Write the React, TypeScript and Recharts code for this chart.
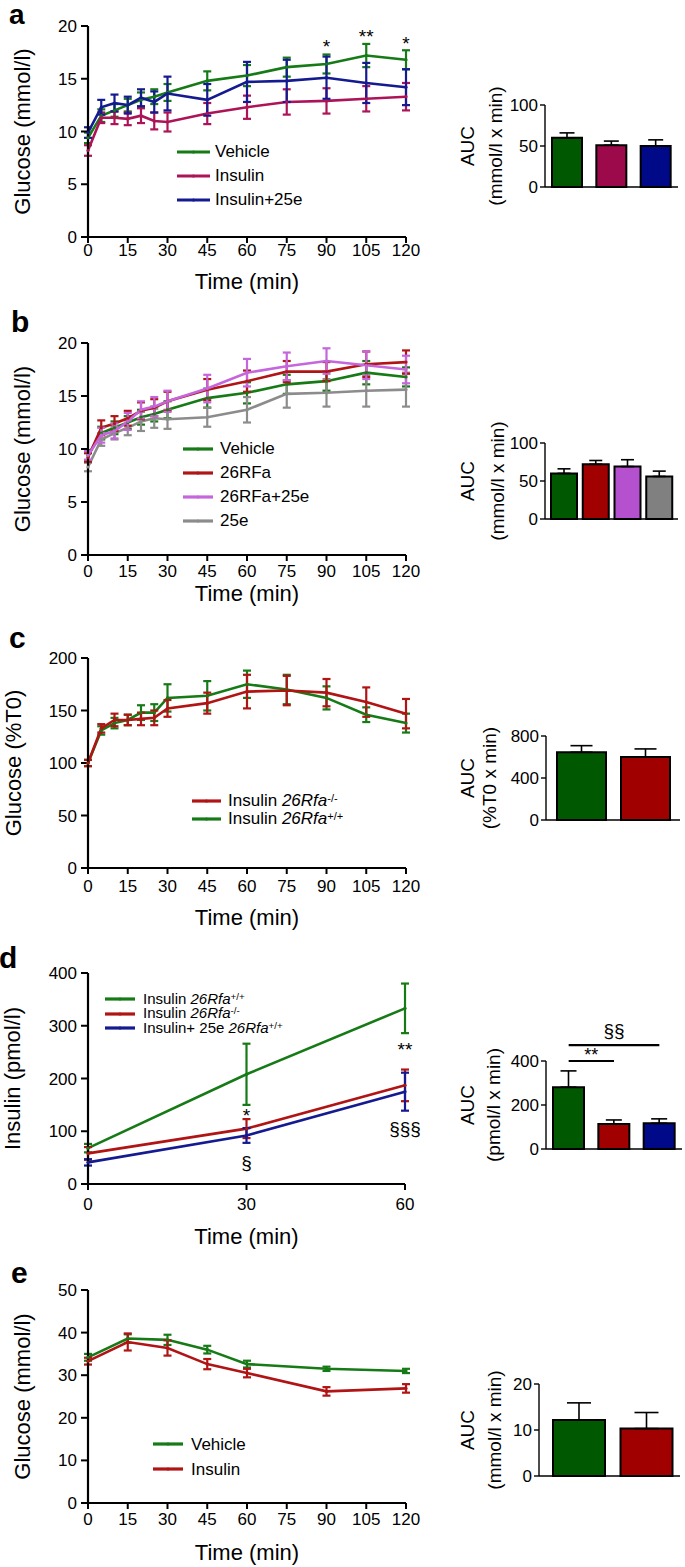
import React from "react";
import {
  Bar,
  BarChart,
  Cell,
  ErrorBar,
  Legend,
  Line,
  LineChart,
  ReferenceDot,
  ReferenceLine,
  XAxis,
  YAxis,
} from "recharts";

const FONT = '"Liberation Sans", Arial, Helvetica, sans-serif';

const GREEN = "#167a16";
const GREEN_BAR = "#005800";
const CRIMSON = "#ad1457";
const CRIMSON_BAR = "#9c0a4c";
const NAVY = "#141a90";
const NAVY_BAR = "#000a88";
const RED = "#b01414";
const RED_BAR = "#a00000";
const VIOLET = "#c566dc";
const VIOLET_BAR = "#b550cf";
const GREY = "#8c8c8c";
const GREY_BAR = "#808080";

// ---- time axes ----
const time120 = [0, 5, 10, 15, 20, 25, 30, 45, 60, 75, 90, 105, 120];
const ticks120 = [0, 15, 30, 45, 60, 75, 90, 105, 120];
const time60 = [0, 30, 60];
const ticks60 = [0, 30, 60];
const timeE = [0, 15, 30, 45, 60, 90, 120];

// ---- panel a ----
const aVehicle = [9.4, 11.5, 12.0, 12.5, 13.0, 13.3, 13.7, 14.8, 15.3, 16.1, 16.4, 17.2, 16.8];
const aVehicleErr = [0.5, 0.6, 0.6, 0.6, 0.7, 0.7, 0.8, 0.9, 1.0, 0.9, 0.9, 1.1, 0.9];
const aInsulin = [8.2, 11.3, 11.3, 11.2, 11.5, 11.0, 10.9, 11.7, 12.3, 12.8, 12.9, 13.1, 13.3];
const aInsulinErr = [0.5, 0.5, 0.6, 0.6, 0.7, 0.8, 0.9, 1.0, 1.1, 1.2, 1.2, 1.2, 1.3];
const aIns25e = [9.9, 12.3, 12.7, 12.5, 13.2, 12.8, 13.6, 13.0, 14.7, 14.8, 15.1, 14.6, 14.2];
const aIns25eErr = [0.5, 0.7, 0.8, 0.8, 0.8, 1.0, 1.6, 1.5, 1.9, 2.0, 2.0, 1.9, 1.7];
const aNotes = [
  { t: 90, v: 18.1, text: "*" },
  { t: 105, v: 19.0, text: "**" },
  { t: 120, v: 18.4, text: "*" },
];
const aAucCats = ["Vehicle", "Insulin", "Insulin+25e"];
const aAuc = [60, 51, 50];
const aAucErr = [6, 5, 7.5];

// ---- panel b ----
const bRFa = [9.2, 12.0, 12.4, 12.9, 13.6, 13.9, 14.5, 15.6, 16.4, 17.3, 17.3, 18.0, 18.2];
const bRFaErr = [0.4, 0.7, 0.7, 0.7, 0.8, 0.8, 0.9, 1.0, 1.0, 1.0, 0.9, 1.2, 1.1];
const bRFa25e = [9.4, 11.3, 11.7, 12.6, 13.7, 14.0, 14.5, 15.7, 17.2, 17.8, 18.3, 17.9, 17.5];
const bRFa25eErr = [0.4, 0.7, 0.7, 0.8, 0.8, 0.9, 1.0, 1.3, 1.3, 1.3, 1.2, 1.3, 1.3];
const b25e = [8.3, 10.9, 11.5, 12.0, 12.6, 12.9, 12.8, 13.0, 13.7, 15.2, 15.3, 15.5, 15.6];
const b25eErr = [0.4, 0.6, 0.6, 0.7, 0.9, 0.9, 0.9, 0.9, 1.2, 1.3, 1.3, 1.5, 1.6];
const bAucCats = ["Vehicle", "26RFa", "26RFa+25e", "25e"];
const bAuc = [60, 72, 69, 56];
const bAucErr = [6, 5, 9, 7];

// ---- panel c ----
const cKO = [100, 133, 141, 141, 142, 143, 152, 157, 168, 169, 167, 158, 147];
const cKOErr = [3, 4, 6, 5, 6, 7, 8, 10, 16, 14, 13, 14, 14];
const cWT = [100, 131, 138, 141, 148, 148, 162, 164, 175, 170, 162, 146, 138];
const cWTErr = [3, 4, 5, 5, 7, 8, 13, 14, 13, 14, 11, 7, 9];
const cAucCats = ["26Rfa+/+", "26Rfa-/-"];
const cAuc = [645, 600];
const cAucErr = [63, 77];

// ---- panel d ----
const dWT = [68, 208, 333];
const dWTErr = [8, 58, 47];
const dKO = [58, 105, 187];
const dKOErr = [12, 18, 30];
const dWT25e = [41, 92, 175];
const dWT25eErr = [6, 14, 36];
const dNotes = [
  { t: 30, v: 130, text: "*" },
  { t: 60, v: 256, text: "**" },
  { t: 30, v: 42, text: "§" },
  { t: 60, v: 105, text: "§§§" },
];
const dAucCats = ["WT", "KO", "WT+25e"];
const dAuc = [281, 114, 117];
const dAucErr = [74, 18, 20];

// ---- panel e ----
const eVehicle = [34.2, 38.6, 38.3, 36.0, 32.6, 31.5, 31.0];
const eVehicleErr = [0.8, 1.0, 1.2, 0.9, 0.8, 0.5, 0.5];
const eInsulin = [33.3, 37.8, 36.4, 32.6, 30.5, 26.2, 26.9];
const eInsulinErr = [0.8, 2.0, 1.8, 1.2, 1.0, 1.0, 1.0];
const eAucCats = ["Vehicle", "Insulin"];
const eAuc = [12.2, 10.3];
const eAucErr = [3.7, 3.5];

function table(times: number[], cols: Record<string, number[]>) {
  return times.map((t, i) => {
    const row: Record<string, number> = { t };
    for (const k of Object.keys(cols)) row[k] = cols[k][i];
    return row;
  });
}

type Series = { key: string; err: string; color: string; label: React.ReactNode };
type Note = { t: number; v: number; text: string };

const Sup = ({ children }: { children: React.ReactNode }) => (
  <span style={{ fontSize: "0.65em", position: "relative", top: "-0.4em", lineHeight: 0 }}>{children}</span>
);
const Rfa = ({ sup }: { sup: string }) => (
  <>
    <i>26Rfa</i>
    <Sup>{sup}</Sup>
  </>
);

function LegendBox({ items, rowH, lineW, gap, fontSize }: { items: Series[]; rowH: number; lineW: number; gap: number; fontSize: number }) {
  return (
    <div style={{ fontFamily: FONT, fontSize, color: "#000", whiteSpace: "nowrap" }}>
      {items.map((it) => (
        <div key={it.key} style={{ display: "flex", alignItems: "center", height: rowH, lineHeight: `${rowH}px` }}>
          <svg width={lineW} height={8} style={{ marginRight: gap, flex: "none" }}>
            <line x1={0} y1={4} x2={lineW} y2={4} stroke={it.color} strokeWidth={3.2} />
            <circle cx={lineW / 2} cy={4} r={1.6} fill={it.color} />
          </svg>
          <span>{it.label}</span>
        </div>
      ))}
    </div>
  );
}

function LinePanel(p: {
  plotTop: number;
  plotBottom: number;
  plotRight: number;
  data: Record<string, number>[];
  xMax: number;
  xTicks: number[];
  yDomain: [number, number];
  yTicks: number[];
  yLabel: string;
  yLabelX: number;
  tickGap: number;
  titleGap: number;
  series: Series[];
  legend: { x: number; y: number; rowH: number; lineW: number; gap: number; fontSize?: number; order?: Series[] };
  notes?: Note[];
}) {
  const head = 26;
  const axisH = 72;
  const top = p.plotTop - head;
  const h = p.plotBottom - p.plotTop + head + axisH;
  const legendItems = p.legend.order ?? p.series;
  return (
    <div style={{ position: "absolute", left: 0, top }}>
      <LineChart
        width={440}
        height={h}
        data={p.data}
        margin={{ top: head, right: 440 - p.plotRight, bottom: 0, left: 0 }}
        style={{ fontFamily: FONT }}
      >
        <XAxis
          dataKey="t"
          type="number"
          domain={[0, p.xMax]}
          ticks={p.xTicks}
          interval={0}
          height={axisH}
          axisLine={{ stroke: "#000", strokeWidth: 2.2 }}
          tickLine={{ stroke: "#000", strokeWidth: 2 }}
          tickSize={6}
          tickMargin={p.tickGap}
          tick={{ fontSize: 17, fill: "#000" }}
          label={{ value: "Time (min)", position: "insideBottom", offset: axisH - p.titleGap, fontSize: 22, fill: "#000" }}
        />
        <YAxis
          width={88}
          domain={p.yDomain}
          ticks={p.yTicks}
          interval={0}
          axisLine={{ stroke: "#000", strokeWidth: 2.2 }}
          tickLine={{ stroke: "#000", strokeWidth: 2 }}
          tickSize={7}
          tickMargin={4}
          tick={{ fontSize: 17, fill: "#000" }}
          label={{
            value: p.yLabel,
            angle: -90,
            position: "insideLeft",
            offset: p.yLabelX,
            textAnchor: "middle",
            style: { textAnchor: "middle" },
            fontSize: 22,
            fill: "#000",
          }}
        />
        {p.series.map((s) => (
          <Line
            key={s.key}
            type="linear"
            dataKey={s.key}
            stroke={s.color}
            strokeWidth={2.6}
            dot={{ r: 1.6, fill: s.color, stroke: s.color, strokeWidth: 0 }}
            isAnimationActive={false}
          >
            <ErrorBar dataKey={s.err} width={4} strokeWidth={2.2} stroke={s.color} direction="y" isAnimationActive={false} />
          </Line>
        ))}
        {(p.notes ?? []).map((n, i) => (
          <ReferenceDot
            key={i}
            x={n.t}
            y={n.v}
            r={0}
            fill="none"
            stroke="none"
            label={{ value: n.text, position: "center", fontSize: 19, fill: "#000" }}
          />
        ))}
        <Legend
          layout="vertical"
          align="center"
          verticalAlign="middle"
          wrapperStyle={{ left: p.legend.x, top: p.legend.y - top - p.legend.rowH / 2, width: 260 }}
          content={() => (
            <LegendBox
              items={legendItems}
              rowH={p.legend.rowH}
              lineW={p.legend.lineW}
              gap={p.legend.gap}
              fontSize={p.legend.fontSize ?? 17}
            />
          )}
        />
      </LineChart>
    </div>
  );
}

function aucLabel(l1: string, l2: string, x1: number, x2: number, cy: number) {
  return () => (
    <g fontFamily={FONT} fontSize={19} fill="#000">
      <text x={x1} y={cy} transform={`rotate(-90 ${x1} ${cy})`} textAnchor="middle" dominantBaseline="central">
        {l1}
      </text>
      <text x={x2} y={cy} transform={`rotate(-90 ${x2} ${cy})`} textAnchor="middle" dominantBaseline="central">
        {l2}
      </text>
    </g>
  );
}

function BarPanel(p: {
  axisX: number;
  xEnd: number;
  yTop: number;
  yZero: number;
  head?: number;
  domain: [number, number];
  ticks: number[];
  cats: string[];
  values: number[];
  errs: number[];
  colors: string[];
  barSize: number;
  cap: number;
  unit: string;
  l1x: number;
  l2x: number;
  padding?: { left: number; right: number };
  children?: React.ReactNode;
}) {
  const head = p.head ?? 45;
  const top = p.yTop - head;
  const axisH = 45;
  const h = p.yZero - top + axisH;
  const data = p.cats.map((c, i) => ({ c, v: p.values[i], err: [0, p.errs[i]] }));
  const cy = head + (p.yZero - p.yTop) / 2;
  return (
    <div style={{ position: "absolute", left: 420, top }}>
      <BarChart
        width={265}
        height={h}
        data={data}
        margin={{ top: head, right: 685 - p.xEnd, bottom: 0, left: 0 }}
        style={{ fontFamily: FONT }}
      >
        <XAxis
          dataKey="c"
          height={axisH}
          tick={false}
          tickSize={5}
          padding={p.padding ?? { left: 0, right: 0 }}
          axisLine={{ stroke: "#000", strokeWidth: 1.6 }}
          tickLine={{ stroke: "#000", strokeWidth: 1.4 }}
        />
        <YAxis
          width={p.axisX - 420}
          domain={p.domain}
          ticks={p.ticks}
          interval={0}
          tickSize={5}
          tickMargin={2}
          axisLine={{ stroke: "#000", strokeWidth: 1.4 }}
          tickLine={{ stroke: "#000", strokeWidth: 1.4 }}
          tick={{ fontSize: 17, fill: "#000" }}
          label={{ content: aucLabel("AUC", p.unit, p.l1x - 420, p.l2x - 420, cy) }}
        />
        <Bar dataKey="v" barSize={p.barSize} stroke="#000" strokeWidth={2} isAnimationActive={false}>
          {p.colors.map((col, i) => (
            <Cell key={i} fill={col} />
          ))}
          <ErrorBar dataKey="err" width={p.cap} strokeWidth={1.6} stroke="#000" direction="y" isAnimationActive={false} />
        </Bar>
        {p.children}
      </BarChart>
    </div>
  );
}

function Letter({ ch, x, baseline, size = 30 }: { ch: string; x: number; baseline: number; size?: number }) {
  return (
    <div
      style={{
        position: "absolute",
        left: x,
        top: baseline - 20,
        fontSize: size,
        lineHeight: "20px",
        fontWeight: "bold",
        fontFamily: FONT,
        color: "#000",
      }}
    >
      {ch}
    </div>
  );
}

const aData = table(time120, { veh: aVehicle, vehE: aVehicleErr, ins: aInsulin, insE: aInsulinErr, i25: aIns25e, i25E: aIns25eErr });
const bData = table(time120, { veh: aVehicle, vehE: aVehicleErr, rfa: bRFa, rfaE: bRFaErr, r25: bRFa25e, r25E: bRFa25eErr, e25: b25e, e25E: b25eErr });
const cData = table(time120, { ko: cKO, koE: cKOErr, wt: cWT, wtE: cWTErr });
const dData = table(time60, { wt: dWT, wtE: dWTErr, ko: dKO, koE: dKOErr, w25: dWT25e, w25E: dWT25eErr });
const eData = table(timeE, { veh: eVehicle, vehE: eVehicleErr, ins: eInsulin, insE: eInsulinErr });

const aSeries: Series[] = [
  { key: "veh", err: "vehE", color: GREEN, label: "Vehicle" },
  { key: "ins", err: "insE", color: CRIMSON, label: "Insulin" },
  { key: "i25", err: "i25E", color: NAVY, label: "Insulin+25e" },
];
const bVeh: Series = { key: "veh", err: "vehE", color: GREEN, label: "Vehicle" };
const bRfaS: Series = { key: "rfa", err: "rfaE", color: RED, label: "26RFa" };
const bR25S: Series = { key: "r25", err: "r25E", color: VIOLET, label: "26RFa+25e" };
const bE25S: Series = { key: "e25", err: "e25E", color: GREY, label: "25e" };
const cKoS: Series = { key: "ko", err: "koE", color: RED, label: <>Insulin <Rfa sup="-/-" /></> };
const cWtS: Series = { key: "wt", err: "wtE", color: GREEN, label: <>Insulin <Rfa sup="+/+" /></> };
const dSeries: Series[] = [
  { key: "wt", err: "wtE", color: GREEN, label: <>Insulin <Rfa sup="+/+" /></> },
  { key: "ko", err: "koE", color: RED, label: <>Insulin <Rfa sup="-/-" /></> },
  { key: "w25", err: "w25E", color: NAVY, label: <>Insulin+ 25e <Rfa sup="+/+" /></> },
];
const eSeries: Series[] = [
  { key: "veh", err: "vehE", color: GREEN, label: "Vehicle" },
  { key: "ins", err: "insE", color: RED, label: "Insulin" },
];

export default function App() {
  return (
    <div
      style={{
        position: "absolute",
        left: 0,
        top: 0,
        width: 685,
        height: 1567,
        background: "#fff",
        overflow: "hidden",
        fontFamily: FONT,
      }}
    >
      {/* a */}
      <Letter ch="a" x={9} baseline={25} size={28} />
      <LinePanel
        plotTop={26}
        plotBottom={237}
        plotRight={406}
        data={aData}
        xMax={120}
        xTicks={ticks120}
        yDomain={[0, 20]}
        yTicks={[0, 5, 10, 15, 20]}
        yLabel="Glucose (mmol/l)"
        yLabelX={22}
        tickGap={1}
        titleGap={52}
        series={aSeries}
        legend={{ x: 177, y: 152, rowH: 24, lineW: 33, gap: 5 }}
        notes={aNotes}
      />
      <BarPanel
        axisX={545}
        xEnd={678}
        yTop={105}
        yZero={187}
        domain={[0, 100]}
        ticks={[0, 50, 100]}
        cats={aAucCats}
        values={aAuc}
        errs={aAucErr}
        colors={[GREEN_BAR, CRIMSON_BAR, NAVY_BAR]}
        barSize={30}
        cap={7.5}
        unit="(mmol/l x min)"
        l1x={467}
        l2x={495}
      />

      {/* b */}
      <Letter ch="b" x={11} baseline={332} />
      <LinePanel
        plotTop={343}
        plotBottom={555}
        plotRight={406}
        data={bData}
        xMax={120}
        xTicks={ticks120}
        yDomain={[0, 20]}
        yTicks={[0, 5, 10, 15, 20]}
        yLabel="Glucose (mmol/l)"
        yLabelX={22}
        tickGap={4}
        titleGap={46}
        series={[bVeh, bE25S, bRfaS, bR25S]}
        legend={{ x: 183, y: 449, rowH: 24, lineW: 30, gap: 7, order: [bVeh, bRfaS, bR25S, bE25S] }}
      />
      <BarPanel
        axisX={545}
        xEnd={678}
        yTop={443}
        yZero={519}
        domain={[0, 100]}
        ticks={[0, 50, 100]}
        cats={bAucCats}
        values={bAuc}
        errs={bAucErr}
        colors={[GREEN_BAR, RED_BAR, VIOLET_BAR, GREY_BAR]}
        barSize={26}
        cap={6.5}
        unit="(mmol/l x min)"
        l1x={467}
        l2x={497}
        padding={{ left: 3, right: 3 }}
      />

      {/* c */}
      <Letter ch="c" x={9} baseline={648} />
      <LinePanel
        plotTop={658}
        plotBottom={868}
        plotRight={406}
        data={cData}
        xMax={120}
        xTicks={ticks120}
        yDomain={[0, 200]}
        yTicks={[0, 50, 100, 150, 200]}
        yLabel="Glucose (%T0)"
        yLabelX={13}
        tickGap={6}
        titleGap={57}
        series={[cWtS, cKoS]}
        legend={{ x: 192, y: 801, rowH: 18, lineW: 29, gap: 7, order: [cKoS, cWtS] }}
      />
      <BarPanel
        axisX={546}
        xEnd={680}
        yTop={736}
        yZero={820}
        domain={[0, 800]}
        ticks={[0, 400, 800]}
        cats={cAucCats}
        values={cAuc}
        errs={cAucErr}
        colors={[GREEN_BAR, RED_BAR]}
        barSize={49}
        cap={11}
        unit="(%T0 x min)"
        l1x={467}
        l2x={489}
        padding={{ left: 3, right: 3 }}
      />

      {/* d */}
      <Letter ch="d" x={-1} baseline={968} />
      <LinePanel
        plotTop={973}
        plotBottom={1184}
        plotRight={405}
        data={dData}
        xMax={60}
        xTicks={ticks60}
        yDomain={[0, 400]}
        yTicks={[0, 100, 200, 300, 400]}
        yLabel="Insulin (pmol/l)"
        yLabelX={12}
        tickGap={8}
        titleGap={60}
        series={dSeries}
        legend={{ x: 105, y: 999, rowH: 14.5, lineW: 30, gap: 8, fontSize: 15 }}
        notes={dNotes}
      />
      <BarPanel
        axisX={546}
        xEnd={682}
        yTop={1061}
        yZero={1149}
        head={45}
        domain={[0, 400]}
        ticks={[0, 200, 400]}
        cats={dAucCats}
        values={dAuc}
        errs={dAucErr}
        colors={[GREEN_BAR, RED_BAR, NAVY_BAR]}
        barSize={31}
        cap={8}
        unit="(pmol/l x min)"
        l1x={467}
        l2x={493}
      >
        <ReferenceLine
          segment={[
            { x: "WT", y: 400 },
            { x: "KO", y: 400 },
          ]}
          stroke="#000"
          strokeWidth={2.2}
          ifOverflow="visible"
          label={{ value: "**", position: "top", offset: 0, fontSize: 18, fill: "#000" }}
        />
        <ReferenceLine
          segment={[
            { x: "WT", y: 472 },
            { x: "WT+25e", y: 472 },
          ]}
          stroke="#000"
          strokeWidth={2.2}
          ifOverflow="visible"
          label={{ value: "§§", position: "top", offset: 8, fontSize: 19, fill: "#000" }}
        />
      </BarPanel>

      {/* e */}
      <Letter ch="e" x={11} baseline={1283} />
      <LinePanel
        plotTop={1290}
        plotBottom={1503}
        plotRight={406}
        data={eData}
        xMax={120}
        xTicks={ticks120}
        yDomain={[0, 50]}
        yTicks={[0, 10, 20, 30, 40, 50]}
        yLabel="Glucose (mmol/l)"
        yLabelX={22}
        tickGap={4}
        titleGap={57}
        series={eSeries}
        legend={{ x: 153, y: 1444, rowH: 25, lineW: 30, gap: 8 }}
      />
      <BarPanel
        axisX={539}
        xEnd={680}
        yTop={1384}
        yZero={1476}
        domain={[0, 20]}
        ticks={[0, 10, 20]}
        cats={eAucCats}
        values={eAuc}
        errs={eAucErr}
        colors={[GREEN_BAR, RED_BAR]}
        barSize={52}
        cap={12}
        unit="(mmol/l x min)"
        l1x={467}
        l2x={494}
        padding={{ left: 6, right: 0 }}
      />
    </div>
  );
}
